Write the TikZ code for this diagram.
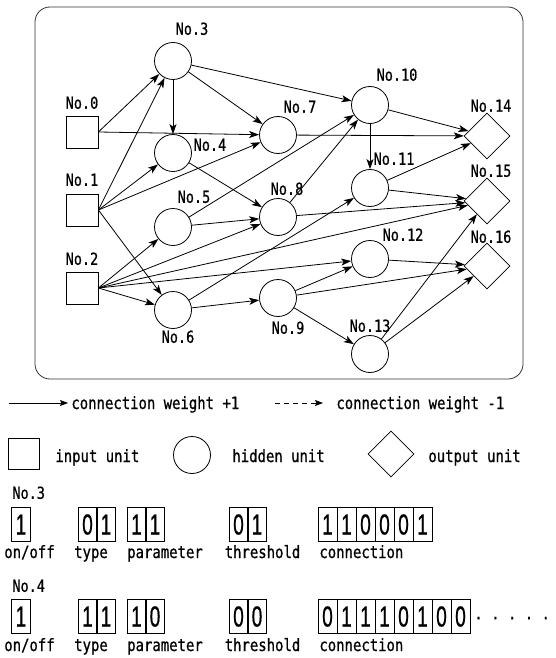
\documentclass[tikz,border=0pt]{standalone}
\usepackage{fontspec}
\setmainfont{DejaVu Sans Mono}[FakeStretch=0.82,FakeBold=0.8]
\newfontfamily\digitfont{Liberation Sans}[FakeStretch=0.66,FakeBold=0.6]
\usetikzlibrary{shapes.geometric,arrows.meta}
\begin{document}
\begin{tikzpicture}[x=1pt,y=-1pt,
  line width=0.8pt,
  lab/.style={font=\fontsize{16.5}{16.5}\selectfont, inner sep=0pt, text height=11.5pt, text depth=0pt},
  leg/.style={font=\fontsize{17}{17}\selectfont, inner sep=0pt, text height=12pt, text depth=0pt},
  sq/.style={draw, rectangle, minimum size=32pt, inner sep=0pt},
  hu/.style={draw, circle, minimum size=37pt, inner sep=0pt},
  ou/.style={draw, diamond, minimum size=46pt, inner sep=0pt},
  arr/.style={-{Stealth[length=10pt,width=7pt,inset=2.5pt]}},
  larr/.style={-{Stealth[length=8pt,width=6pt,inset=1.5pt]}},
  cell/.style={draw, rectangle, minimum width=19pt, minimum height=34pt, inner sep=0pt,
    font=\digitfont\fontsize{29}{29}\selectfont, text height=21pt, text depth=0pt}
]
\path[use as bounding box] (0,0) rectangle (555,658);
\draw[black!80, rounded corners=15pt] (35,7) rectangle (523,379);

% units
\node[sq] (n0) at (82,132) {};
\node[sq] (n1) at (82,210) {};
\node[sq] (n2) at (82,288) {};
\node[hu] (n3) at (173,61) {};
\node[hu] (n4) at (173,153) {};
\node[hu] (n5) at (173,227) {};
\node[hu] (n6) at (173,310) {};
\node[hu] (n7) at (278,135) {};
\node[hu] (n8) at (278,217) {};
\node[hu] (n9) at (278,298) {};
\node[hu] (n10) at (370,105) {};
\node[hu] (n11) at (370,188) {};
\node[hu] (n12) at (370,259) {};
\node[hu] (n13) at (370,354) {};
\node[ou] (n14) at (487,136) {};
\node[ou] (n15) at (487,201) {};
\node[ou] (n16) at (487,266) {};

% labels
\node[lab] (l0) at (82,103) {No.0};
\node[lab] (l1) at (82,180) {No.1};
\node[lab] (l2) at (82,259) {No.2};
\node[lab] (l3) at (192,29) {No.3};
\node[lab] (l4) at (210,145) {No.4};
\node[lab] (l5) at (194,197) {No.5};
\node[lab] (l6) at (178,337) {No.6};
\node[lab] (l7) at (300,107) {No.7};
\node[lab] (l8) at (287,189) {No.8};
\node[lab] (l9) at (288,328) {No.9};
\node[lab] (l10) at (397,75) {No.10};
\node[lab] (l11) at (394,159) {No.11};
\node[lab] (l12) at (403,235) {No.12};
\node[lab] (l13) at (370,326) {No.13};
\node[lab] (l14) at (491,106) {No.14};
\node[lab] (l15) at (491,171) {No.15};
\node[lab] (l16) at (491,237) {No.16};

% connections
\draw[arr] (n0.east) -- (n3);
\draw[arr] (n0.east) -- (n7);
\draw[arr] (n1.east) -- (n3);
\draw[arr] (n1.east) -- (n4);
\draw[arr] (n1.east) -- (n7);
\draw[arr] (n1.east) -- (n6);
\draw[arr] (n2.east) -- (n5);
\draw[arr] (n2.east) -- (n8);
\draw[arr] (n2.east) -- (n15);
\draw[arr] (n2.east) -- (n12);
\draw[arr] (n2.east) -- (n6);
\draw[arr] (n3) -- (n4);
\draw[arr] (n3) -- (n7);
\draw[arr] (n3) -- (n10);
\draw[arr] (n4) -- (n8);
\draw[arr] (n5) -- (n8);
\draw[arr] (n5) -- (n10);
\draw[arr] (n6) -- (n9);
\draw[arr] (n6) -- (n11);
\draw[arr] (n7) -- (n14);
\draw[arr] (n8) -- (n10);
\draw[arr] (n8) -- (n15);
\draw[arr] (n9) -- (n12);
\draw[arr] (n9) -- (n16);
\draw[arr] (n9) -- (n13);
\draw[arr] (n10) -- (n14);
\draw[arr] (n10) -- (n11);
\draw[arr] (n11) -- (n14);
\draw[arr] (n11) -- (n15);
\draw[arr] (n12) -- (n16);
\draw[arr] (n13) -- (n15);
\draw[arr] (n13) -- (n16);

% legend
\coordinate (a1s) at (9,403);
\coordinate (a1e) at (68,403);
\coordinate (a2s) at (275,403);
\coordinate (a2e) at (323,403);
\draw[larr] (a1s) -- (a1e);
\draw[larr, dash pattern=on 5pt off 4pt] (a2s) -- (a2e);
\node[leg, anchor=west] (t1) at (71,403) {connection weight +1};
\node[leg, anchor=west] (t2) at (336,403) {connection weight -1};
\node[draw, rectangle, minimum size=31pt, inner sep=0pt] (lsq) at (24,454) {};
\node[leg, anchor=west] (t3) at (55,456) {input unit};
\node[hu] (lci) at (192,455) {};
\node[leg, anchor=west] (t4) at (232,456) {hidden unit};
\node[ou] (ldm) at (391,454) {};
\node[leg, anchor=west] (t5) at (428,456) {output unit};

% chromosome No.3
\node[lab, anchor=west] (h3) at (12,493) {No.3};
\node[cell] (a0) at (21,524) {1};
\node[cell] (b0) at (87.5,524) {0};
\node[cell] (b1) at (106,524) {1};
\node[cell] (c0) at (136.5,524) {1};
\node[cell] (c1) at (155,524) {1};
\node[cell] (d0) at (238.5,524) {0};
\node[cell] (d1) at (257,524) {1};
\foreach \b [count=\i from 0] in {1,1,0,0,0,1}
  \node[cell] (e\i) at (327.5+19*\i,524) {\b};
\node[leg] (u1) at (29.5,552) {on/off};
\node[leg] (u2) at (91,552) {type};
\node[leg] (u3) at (165,552) {parameter};
\node[leg] (u4) at (262.5,552) {threshold};
\node[leg, anchor=west] (u5) at (319,552) {connection};

% chromosome No.4
\node[lab, anchor=west] (h4) at (12,586) {No.4};
\node[cell] (f0) at (21,616) {1};
\node[cell] (g0) at (87.5,616) {1};
\node[cell] (g1) at (106,616) {1};
\node[cell] (k0) at (136.5,616) {1};
\node[cell] (k1) at (155,616) {0};
\node[cell] (m0) at (238.5,616) {0};
\node[cell] (m1) at (257,616) {0};
\foreach \b [count=\i from 0] in {0,1,1,1,0,1,0,0}
  \node[cell] (p\i) at (327.5+19*\i,616) {\b};
\node[leg, anchor=west] (dots) at (474,618) {· · · · ·};
\node[leg] (v1) at (29.5,645) {on/off};
\node[leg] (v2) at (91,645) {type};
\node[leg] (v3) at (165,645) {parameter};
\node[leg] (v4) at (262.5,645) {threshold};
\node[leg, anchor=west] (v5) at (319,645) {connection};
\end{tikzpicture}
\end{document}
